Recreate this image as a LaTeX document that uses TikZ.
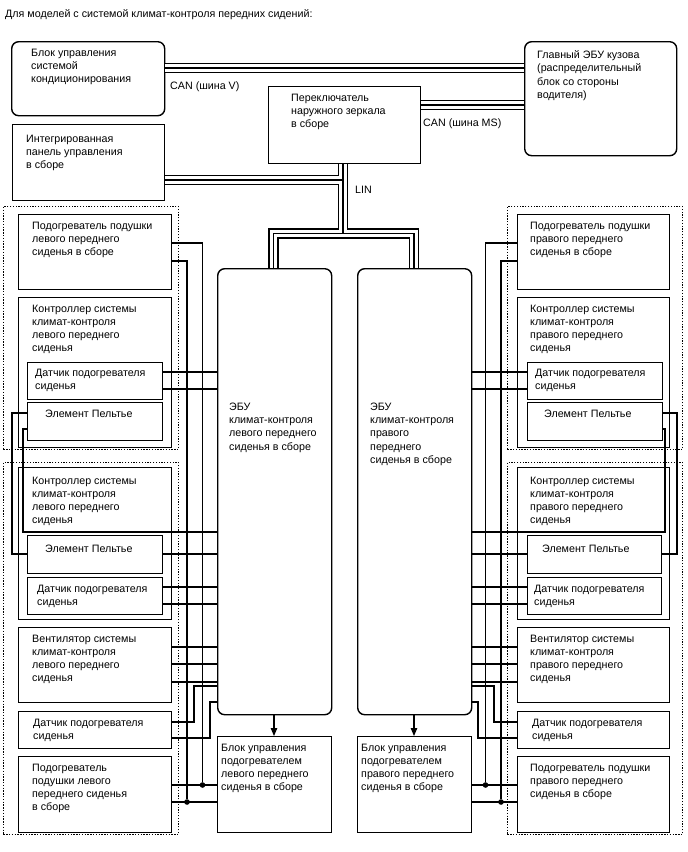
\documentclass[tikz,border=0pt]{standalone}
\usepackage{fontspec}
\setmainfont{Liberation Sans}
\usetikzlibrary{arrows.meta}
\begin{document}
\begin{tikzpicture}[x=1pt,y=-1pt,
  box/.style={draw, line width=1.4pt, inner sep=0pt, anchor=north west},
  rbox/.style={box, rounded corners=7pt},
  txt/.style={inner sep=0pt, anchor=north west, yshift=7.5pt, align=left, font=\fontsize{10.7}{13.3}\selectfont, execute at begin node={\rule{0pt}{9pt}}},
  wire/.style={line width=1.1pt},
  grp/.style={draw, line width=0.9pt, dash pattern=on 1.3pt off 1.5pt, inner sep=0pt, anchor=north west},
  bus/.style={line width=10.4pt, postaction={draw=white, line width=7.8pt}, postaction={draw=black, line width=1.3pt}},
  jdot/.style={circle, fill, inner sep=0pt, minimum size=5.6pt},
  arr/.style={wire, -{Triangle[length=8pt,width=6.5pt]}},
]
\useasboundingbox[fill=white] (0,0) rectangle (688,852);

% group frames
\node[grp, minimum width=175pt, minimum height=243pt] (gL1) at (3,206) {};
\node[grp, minimum width=175pt, minimum height=372pt] (gL2) at (3,462) {};
\node[grp, minimum width=175pt, minimum height=243pt] (gR1) at (507,206) {};
\node[grp, minimum width=175pt, minimum height=372pt] (gR2) at (507,462) {};

% top boxes
\node[rbox, minimum width=153pt, minimum height=74pt] (ac) at (11,41) {};
\node[box, minimum width=152pt, minimum height=76pt] (panel) at (12,124) {};
\node[box, minimum width=152pt, minimum height=77pt] (mirror) at (268,86) {};
\node[rbox, minimum width=152pt, minimum height=114pt] (mecu) at (524,41) {};

% ECUs and heater controls
\node[rbox, minimum width=114pt, minimum height=446pt] (ecuL) at (217,268) {};
\node[rbox, minimum width=114pt, minimum height=446pt] (ecuR) at (357,268) {};
\node[box, minimum width=114pt, minimum height=96pt] (hcL) at (217,736) {};
\node[box, minimum width=114pt, minimum height=96pt] (hcR) at (357,736) {};

% left column
\node[box, minimum width=153pt, minimum height=75pt] (chL1) at (18,214) {};
\node[box, minimum width=153pt, minimum height=150pt] (ctL1) at (18,297) {};
\node[box, minimum width=135pt, minimum height=37pt] (dsL1) at (27,362) {};
\node[box, minimum width=135pt, minimum height=38pt] (peL1) at (27,402) {};
\node[box, minimum width=153pt, minimum height=152pt] (ctL2) at (18,467) {};
\node[box, minimum width=135pt, minimum height=38pt] (peL2) at (27,535) {};
\node[box, minimum width=135pt, minimum height=37pt] (dsL2) at (27,577) {};
\node[box, minimum width=153pt, minimum height=75pt] (fnL) at (18,627) {};
\node[box, minimum width=153pt, minimum height=37pt] (dsL3) at (18,711) {};
\node[box, minimum width=153pt, minimum height=76pt] (chL2) at (18,756) {};

% right column
\node[box, minimum width=152pt, minimum height=75pt] (chR1) at (517,214) {};
\node[box, minimum width=152pt, minimum height=150pt] (ctR1) at (517,297) {};
\node[box, minimum width=135pt, minimum height=37pt] (dsR1) at (527,362) {};
\node[box, minimum width=135pt, minimum height=38pt] (peR1) at (527,402) {};
\node[box, minimum width=152pt, minimum height=152pt] (ctR2) at (517,467) {};
\node[box, minimum width=134pt, minimum height=38pt] (peR2) at (527,535) {};
\node[box, minimum width=134pt, minimum height=37pt] (dsR2) at (527,577) {};
\node[box, minimum width=152pt, minimum height=75pt] (fnR) at (517,627) {};
\node[box, minimum width=152pt, minimum height=37pt] (dsR3) at (517,711) {};
\node[box, minimum width=152pt, minimum height=76pt] (chR2) at (517,756) {};

% buses
\draw[bus] (ac.east |- 0,68) -- (mecu.west |- 0,68);
\draw[bus] (mirror.east |- 0,105) -- (mecu.west |- 0,105);
\draw[bus] (mirror.south -| 343,0) -- (343,233.5) -| (ecuL.north -| 273.5,0)
           (343,233.5) -| (ecuR.north -| 414,0)
           (panel.east |- 0,180) -- (343,180);

% junction dots
\node[jdot] (jL1) at (202.5,785) {};
\node[jdot] (jL2) at (187,802) {};
\node[jdot] (jR1) at (485.5,785) {};
\node[jdot] (jR2) at (501,802) {};

% left wiring
\draw[wire] (chL1.east |- 0,243) -| (jL1);
\draw[wire] (chL1.east |- 0,261) -| (jL2);
\draw[wire] (chL2.east |- 0,785) -- (hcL.west |- 0,785);
\draw[wire] (chL2.east |- 0,802) -- (hcL.west |- 0,802);
\draw[wire] (dsL1.east |- 0,372) -- (ecuL.west |- 0,372);
\draw[wire] (dsL1.east |- 0,389) -- (ecuL.west |- 0,389);
\draw[wire] (peL1.west |- 0,413) -- (12,413) |- (peL2.west |- 0,554);
\draw[wire] (peL1.west |- 0,429) -- (23,429) |- (ecuL.west |- 0,532);
\draw[wire] (peL2.east |- 0,554) -- (ecuL.west |- 0,554);
\draw[wire] (dsL2.east |- 0,587) -- (ecuL.west |- 0,587);
\draw[wire] (dsL2.east |- 0,604) -- (ecuL.west |- 0,604);
\draw[wire] (fnL.east |- 0,647) -- (ecuL.west |- 0,647);
\draw[wire] (fnL.east |- 0,664) -- (ecuL.west |- 0,664);
\draw[wire] (fnL.east |- 0,682) -- (ecuL.west |- 0,682);
\draw[wire] (dsL3.east |- 0,722) -- (194,722) |- (ecuL.west |- 0,686);
\draw[wire] (dsL3.east |- 0,738) -- (210,738) |- (ecuL.west |- 0,702);

% right wiring
\draw[wire] (chR1.west |- 0,243) -| (jR1);
\draw[wire] (chR1.west |- 0,261) -| (jR2);
\draw[wire] (chR2.west |- 0,785) -- (hcR.east |- 0,785);
\draw[wire] (chR2.west |- 0,802) -- (hcR.east |- 0,802);
\draw[wire] (dsR1.west |- 0,372) -- (ecuR.east |- 0,372);
\draw[wire] (dsR1.west |- 0,389) -- (ecuR.east |- 0,389);
\draw[wire] (peR1.east |- 0,413) -- (677,413) |- (peR2.east |- 0,554);
\draw[wire] (peR1.east |- 0,429) -- (665,429) |- (ecuR.east |- 0,532);
\draw[wire] (peR2.west |- 0,554) -- (ecuR.east |- 0,554);
\draw[wire] (dsR2.west |- 0,587) -- (ecuR.east |- 0,587);
\draw[wire] (dsR2.west |- 0,604) -- (ecuR.east |- 0,604);
\draw[wire] (fnR.west |- 0,647) -- (ecuR.east |- 0,647);
\draw[wire] (fnR.west |- 0,664) -- (ecuR.east |- 0,664);
\draw[wire] (fnR.west |- 0,682) -- (ecuR.east |- 0,682);
\draw[wire] (dsR3.west |- 0,722) -- (494,722) |- (ecuR.east |- 0,686);
\draw[wire] (dsR3.west |- 0,738) -- (478,738) |- (ecuR.east |- 0,702);

% arrows
\draw[arr] (ecuL.south -| 274,0) -- (hcL.north -| 274,0);
\draw[arr] (ecuR.south -| 414,0) -- (hcR.north -| 414,0);

% texts
\node[txt] (title) at (5,16) {Для моделей с системой климат-контроля передних сидений:};
\node[txt] (act) at (31,56) {Блок управления\\системой\\кондиционирования};
\node[txt] (panelt) at (26,142) {Интегрированная\\панель управления\\в сборе};
\node[txt] (mirrort) at (291,101) {Переключатель\\наружного зеркала\\в сборе};
\node[txt] (mecut) at (537,58) {Главный ЭБУ кузова\\(распределительный\\блок со стороны\\водителя)};
\node[txt] (canv) at (170,88) {CAN (шина V)};
\node[txt] (canms) at (423,125) {CAN (шина MS)};
\node[txt] (lin) at (355,192) {LIN};

\node[txt] (ecuLt) at (229,410) {ЭБУ\\климат-контроля\\левого переднего\\сиденья в сборе};
\node[txt] (ecuRt) at (370,410) {ЭБУ\\климат-контроля\\правого\\переднего\\сиденья в сборе};
\node[txt] (hcLt) at (221,751) {Блок управления\\подогревателем\\левого переднего\\сиденья в сборе};
\node[txt] (hcRt) at (361,751) {Блок управления\\подогревателем\\правого переднего\\сиденья в сборе};

\node[txt] (chL1t) at (32,229) {Подогреватель подушки\\левого переднего\\сиденья в сборе};
\node[txt] (ctL1t) at (32,312) {Контроллер системы\\климат-контроля\\левого переднего\\сиденья};
\node[txt] (dsL1t) at (35,376) {Датчик подогревателя\\сиденья};
\node[txt] (peL1t) at (45,416) {Элемент Пельтье};
\node[txt] (ctL2t) at (32,484) {Контроллер системы\\климат-контроля\\левого переднего\\сиденья};
\node[txt] (peL2t) at (45,551) {Элемент Пельтье};
\node[txt] (dsL2t) at (37,592) {Датчик подогревателя\\сиденья};
\node[txt] (fnLt) at (32,642) {Вентилятор системы\\климат-контроля\\левого переднего\\сиденья};
\node[txt] (dsL3t) at (33,726) {Датчик подогревателя\\сиденья};
\node[txt] (chL2t) at (32,771) {Подогреватель\\подушки левого\\переднего сиденья\\в сборе};

\node[txt] (chR1t) at (530,229) {Подогреватель подушки\\правого переднего\\сиденья в сборе};
\node[txt] (ctR1t) at (530,312) {Контроллер системы\\климат-контроля\\правого переднего\\сиденья};
\node[txt] (dsR1t) at (535,376) {Датчик подогревателя\\сиденья};
\node[txt] (peR1t) at (544,416) {Элемент Пельтье};
\node[txt] (ctR2t) at (530,484) {Контроллер системы\\климат-контроля\\правого переднего\\сиденья};
\node[txt] (peR2t) at (542,551) {Элемент Пельтье};
\node[txt] (dsR2t) at (534,592) {Датчик подогревателя\\сиденья};
\node[txt] (fnRt) at (530,642) {Вентилятор системы\\климат-контроля\\правого переднего\\сиденья};
\node[txt] (dsR3t) at (532,726) {Датчик подогревателя\\сиденья};
\node[txt] (chR2t) at (530,771) {Подогреватель подушки\\правого переднего\\сиденья в сборе};
\end{tikzpicture}
\end{document}
